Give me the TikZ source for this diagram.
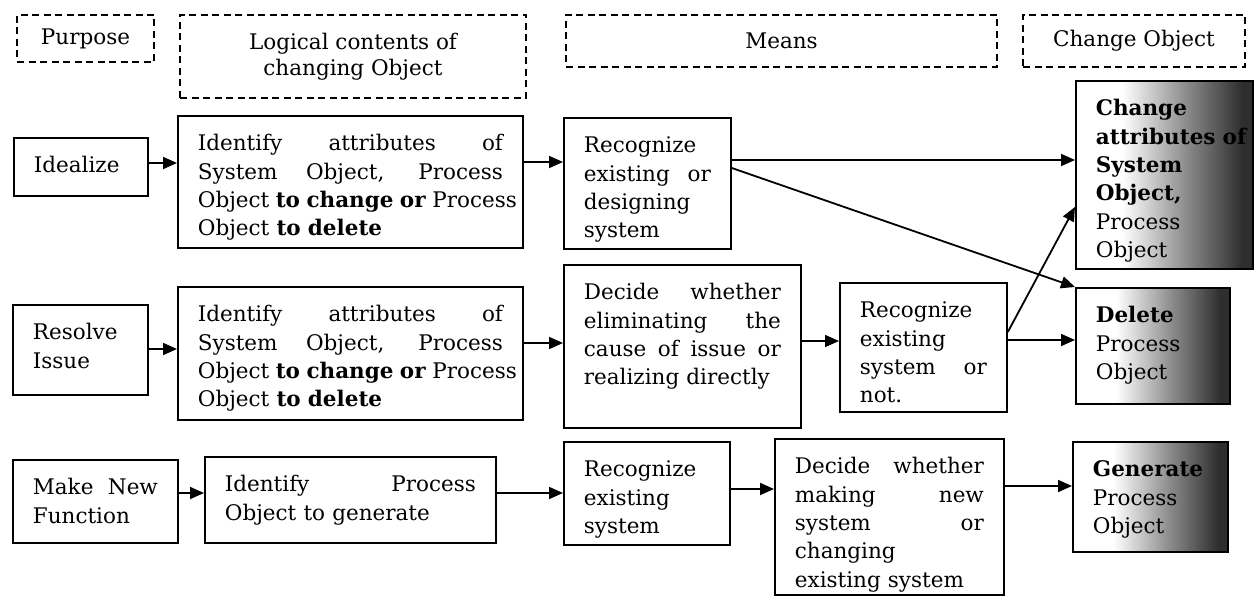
\documentclass[tikz,border=0pt]{standalone}
\usepackage{fontspec}
\setmainfont{DejaVu Serif}
\usetikzlibrary{arrows.meta}

\pgfdeclarehorizontalshading{objfade}{100bp}{color(0bp)=(white); color(38bp)=(white); color(56bp)=(black!45); color(72bp)=(black!82); color(100bp)=(black!82)}

% justified line: spaces stretch to the full text width
\newcommand{\fullline}[1]{\makebox[\linewidth][s]{\spaceskip=0.3em plus 1fill\relax #1}}

\tikzset{
    stepbox/.style={draw, line width=1.8pt, anchor=north west,
        inner xsep=20pt, inner ysep=0pt, text height=35pt, align=left,
        font=\fontsize{21.5}{28.3}\selectfont},
    objbox/.style={stepbox, shade, shading=objfade},
    headbox/.style={draw, line width=1.5pt, dash pattern=on 7pt off 4.5pt,
        align=center, inner sep=0pt, font=\fontsize{21.5}{26}\selectfont},
    flow/.style={line width=1.8pt, -{Triangle[length=14pt,width=12pt]}}
}

\begin{document}
\begin{tikzpicture}[x=1pt, y=-1pt]
    \useasboundingbox (0,0) rectangle (1255,596);

    % ============================================================
    % COLUMN HEADERS
    % ============================================================
    \node[headbox, minimum width=137, minimum height=47] (hpurpose) at (85.5,38.5) {Purpose};
    \node[headbox, minimum width=346, minimum height=83] (hlogic) at (353,56.5)
        {Logical contents of\\changing Object};
    \node[headbox, minimum width=431, minimum height=52] (hmeans) at (781.5,41) {Means};
    \node[headbox, minimum width=222, minimum height=52] (hchange) at (1134,41) {Change Object};

    % ============================================================
    % ROW 1: IDEALIZE
    % ============================================================
    \node[stepbox, text width=94pt, text depth=23pt] (ideal) at (13,137) {Idealize};
    \node[stepbox, text width=305pt, text depth=97pt] (ident1) at (177,115)
        {\fullline{Identify attributes of}\\
         \fullline{System Object, Process}\\
         \fullline{Object \textbf{to change or} Process}\\
         Object \textbf{to delete}};
    \node[stepbox, text width=127pt, text depth=96pt] (recog1) at (563,117)
        {Recognize\\ \fullline{existing or}\\ designing\\ system};

    % ============================================================
    % ROW 2: RESOLVE ISSUE
    % ============================================================
    \node[stepbox, text width=95pt, text depth=55pt] (resolve) at (12,304) {Resolve\\ Issue};
    \node[stepbox, text width=305pt, text depth=98pt] (ident2) at (177,286)
        {\fullline{Identify attributes of}\\
         \fullline{System Object, Process}\\
         \fullline{Object \textbf{to change or} Process}\\
         Object \textbf{to delete}};
    \node[stepbox, text width=197pt, text depth=128pt] (decide1) at (563,264)
        {\fullline{Decide whether}\\ \fullline{eliminating the}\\
         \fullline{cause of issue or}\\ realizing directly};
    \node[stepbox, text width=127pt, text depth=94pt] (recog2) at (839,282)
        {Recognize\\ existing\\ \fullline{system or}\\ not.};

    % ============================================================
    % ROW 3: MAKE NEW FUNCTION
    % ============================================================
    \node[stepbox, text width=125pt, text depth=48pt] (makenew) at (12,459)
        {\fullline{Make New}\\ Function};
    \node[stepbox, text width=251pt, text depth=51pt] (ident3) at (204,456)
        {\fullline{Identify Process}\\ Object to generate};
    \node[stepbox, text width=126pt, text depth=68pt] (recog3) at (563,441)
        {Recognize\\ existing\\ system};
    \node[stepbox, text width=189pt, text depth=121pt] (decide3) at (774,438)
        {\fullline{Decide whether}\\ \fullline{making new}\\ \fullline{system or}\\
         changing\\ existing system};

    % ============================================================
    % CHANGE OBJECTS (SHADED)
    % ============================================================
    \node[objbox, text width=137pt, text depth=153pt] (chg) at (1075,80)
        {\textbf{Change}\\ \mbox{\textbf{attributes of}}\\ \textbf{System}\\ \textbf{Object,}\\
         Process\\ Object};
    \node[objbox, text width=114pt, text depth=81pt] (del) at (1075,287)
        {\textbf{Delete}\\ Process\\ Object};
    \node[objbox, text width=115pt, text depth=75pt] (gen) at (1072,441)
        {\textbf{Generate}\\ Process\\ Object};

    % ============================================================
    % FLOWS
    % ============================================================
    \draw[flow] (ideal.east |- 0,163) -- (ident1.west |- 0,163);
    \draw[flow] (ident1.east |- 0,162) -- (recog1.west |- 0,162);
    \draw[flow] (recog1.east |- 0,160) -- (chg.west |- 0,160);
    \draw[flow] (recog1.east |- 0,168) -- (del.north west);

    \draw[flow] (resolve.east |- 0,349) -- (ident2.west |- 0,349);
    \draw[flow] (ident2.east |- 0,343) -- (decide1.west |- 0,343);
    \draw[flow] (decide1.east |- 0,341) -- (recog2.west |- 0,341);
    \draw[flow] (recog2.east |- 0,340) -- (del.west |- 0,340);
    \draw[flow] (recog2.east |- 0,332) -- (chg.west |- 0,207);

    \draw[flow] (makenew.east |- 0,493) -- (ident3.west |- 0,493);
    \draw[flow] (ident3.east |- 0,493) -- (recog3.west |- 0,493);
    \draw[flow] (recog3.east |- 0,489) -- (decide3.west |- 0,489);
    \draw[flow] (decide3.east |- 0,486) -- (gen.west |- 0,486);

\end{tikzpicture}
\end{document}
